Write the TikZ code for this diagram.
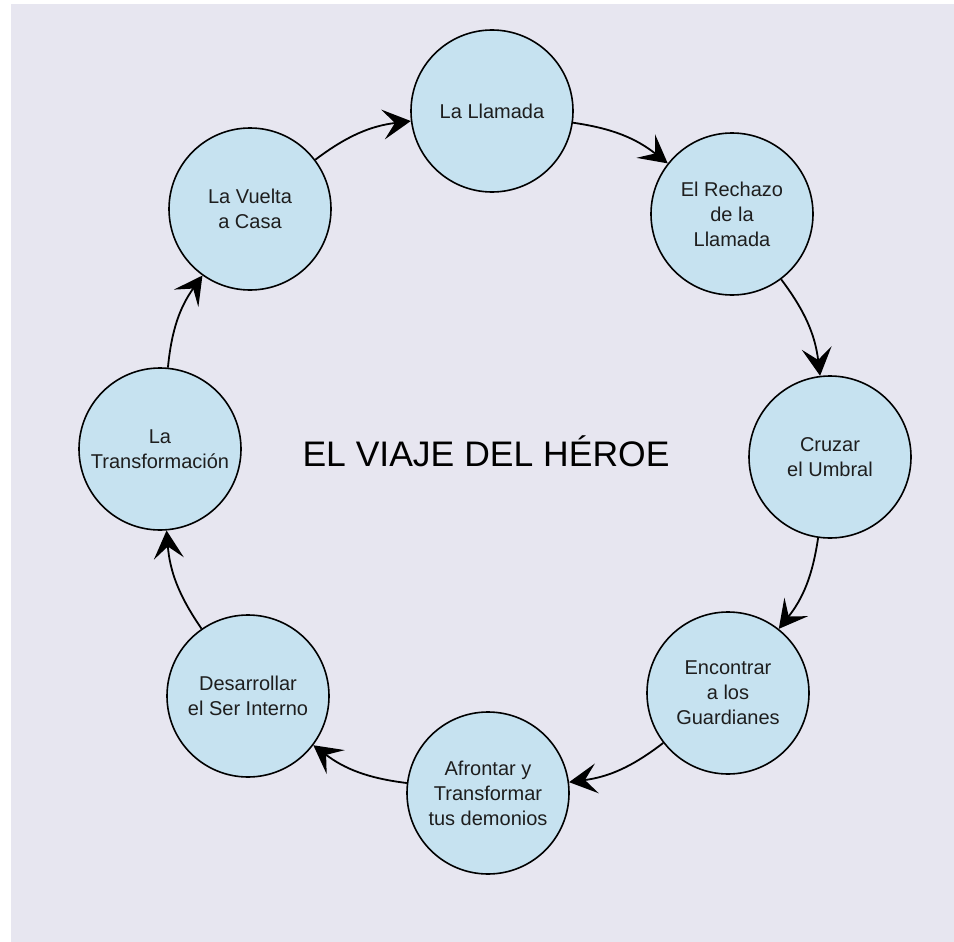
\documentclass[tikz,border=0pt]{standalone}
\usepackage{fontspec}
\setmainfont{Liberation Sans}
\usetikzlibrary{arrows.meta}
\definecolor{bgc}{HTML}{E7E6F0}
\definecolor{nodefill}{HTML}{C6E2F0}
\definecolor{txt}{HTML}{1E1E1E}
\tikzset{
  stage/.style={circle, draw=black, line width=1.6pt, fill=nodefill, minimum size=162pt, inner sep=0pt,
    align=center, text=txt, font=\fontsize{20}{25}\selectfont},
  arr/.style={line width=1.8pt, draw=black, -{Stealth[length=28pt,width=30pt,inset=12pt]}}
}
\begin{document}
\begin{tikzpicture}[x=1pt,y=-1pt]
\useasboundingbox (0,0) rectangle (954,942);
\fill[white] (0,0) rectangle (954,942);
\fill[bgc] (11,4) rectangle (954,942);
\node[stage] (n1) at (492,111) {La Llamada};
\node[stage] (n2) at (732,214) {El Rechazo\\de la\\Llamada};
\node[stage] (n3) at (830,457) {Cruzar\\el Umbral};
\node[stage] (n4) at (728,693) {Encontrar\\a los\\Guardianes};
\node[stage] (n5) at (488,793) {Afrontar y\\Transformar\\tus demonios};
\node[stage] (n6) at (248,696) {Desarrollar\\el Ser Interno};
\node[stage] (n7) at (160,449) {La\\Transformación};
\node[stage] (n8) at (250,209) {La Vuelta\\a Casa};
\node[font=\fontsize{35.5}{40}\selectfont, text=black] (title) at (486,451) {EL VIAJE DEL HÉROE};
\draw[arr] (n1) to[bend left=15] (n2);
\draw[arr] (n2) to[bend left=15] (n3);
\draw[arr] (n3) to[bend left=15] (n4);
\draw[arr] (n4) to[bend left=15] (n5);
\draw[arr] (n5) to[bend left=15] (n6);
\draw[arr] (n6) to[bend left=15] (n7);
\draw[arr] (n7) to[bend left=15] (n8);
\draw[arr] (n8) to[bend left=15] (n1);
\end{tikzpicture}
\end{document}
